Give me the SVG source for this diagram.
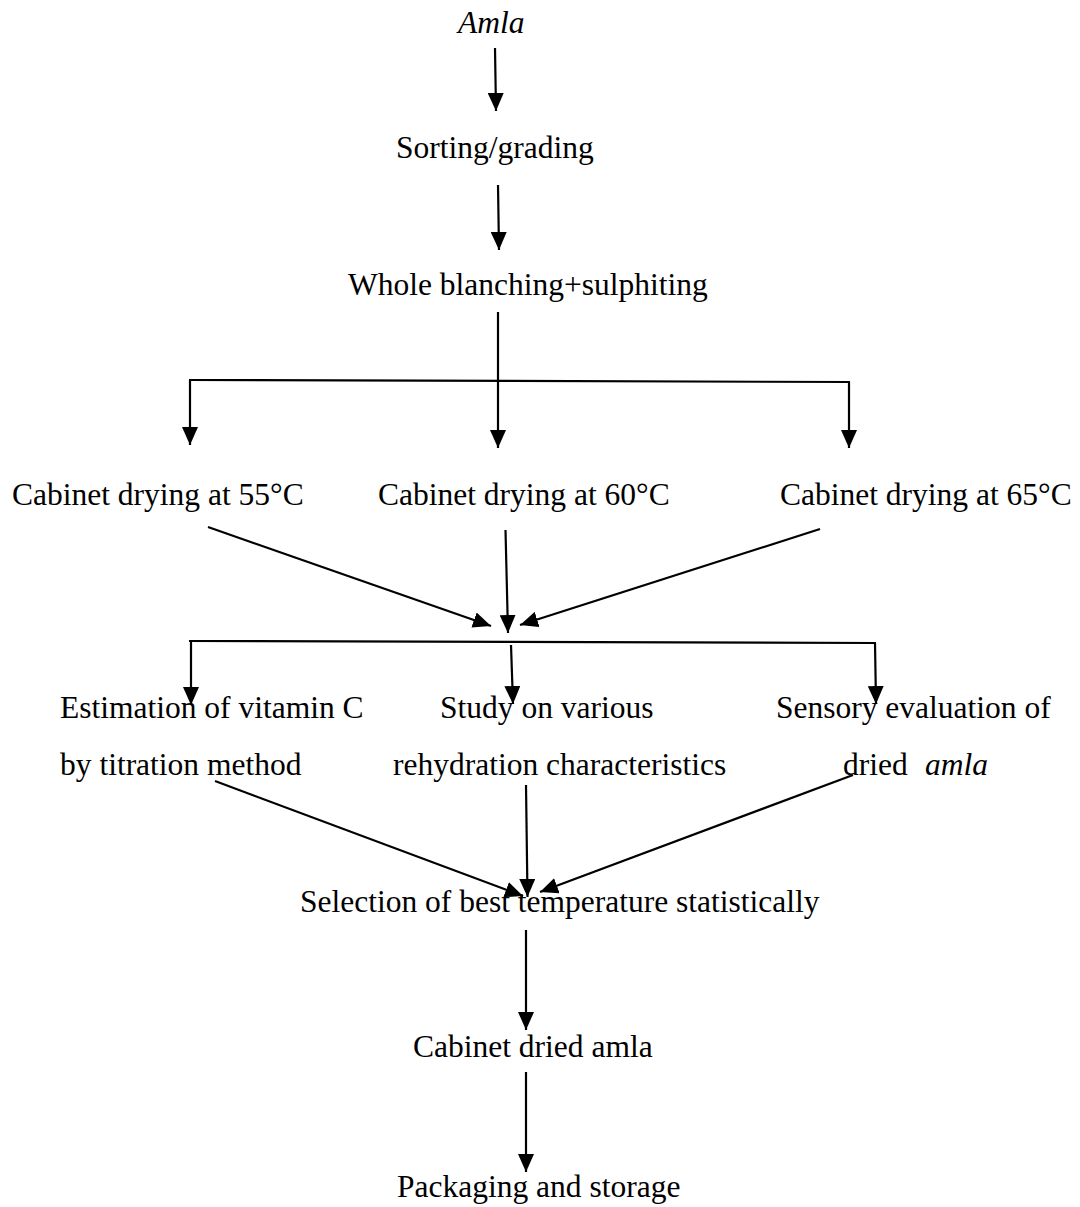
<svg xmlns="http://www.w3.org/2000/svg" width="1080" height="1207" viewBox="0 0 1080 1207">
<style>
text{font-family:"Liberation Serif","Times New Roman",serif;font-size:31.5px;fill:#000}
.it{font-style:italic}
.c line{stroke:#000;stroke-width:2.2;fill:none}
.a{marker-end:url(#ah)}
</style>
<defs>
<marker id="ah" markerUnits="userSpaceOnUse" markerWidth="18" markerHeight="16" viewBox="0 0 18 16" refX="18" refY="8" orient="auto">
<path d="M0,0 L18,8 L0,16 z" fill="#000"/>
</marker>
</defs>
<rect width="1080" height="1207" fill="#fff"/>
<g id="n-amla"><text x="458" y="33" class="it">Amla</text></g>
<g id="n-sorting"><text x="396" y="158">Sorting/grading</text></g>
<g id="n-blanching"><text x="348" y="295">Whole blanching+sulphiting</text></g>
<g id="n-dry55"><text x="12" y="505">Cabinet drying at 55°C</text></g>
<g id="n-dry60"><text x="378" y="505">Cabinet drying at 60°C</text></g>
<g id="n-dry65"><text x="780" y="505">Cabinet drying at 65°C</text></g>
<g id="n-vitc"><text x="60" y="718">Estimation of vitamin C</text><text x="60" y="775">by titration method</text></g>
<g id="n-rehyd"><text x="440" y="718">Study on various</text><text x="393" y="775">rehydration characteristics</text></g>
<g id="n-sensory"><text x="776" y="718">Sensory evaluation of</text><text x="843" y="775">dried</text><text x="925" y="775" class="it">amla</text></g>
<g id="n-select"><text x="300" y="912">Selection of best temperature statistically</text></g>
<g id="n-dried"><text x="413" y="1057">Cabinet dried amla</text></g>
<g id="n-pack"><text x="397" y="1197">Packaging and storage</text></g>
<g id="connectors" class="c">
<line class="a" x1="495" y1="48" x2="496" y2="111"/>
<line class="a" x1="498" y1="185" x2="499" y2="250"/>
<line class="a" x1="498" y1="312" x2="498" y2="448"/>
<line x1="189" y1="380" x2="850" y2="382"/>
<line class="a" x1="190" y1="380" x2="190" y2="445"/>
<line class="a" x1="849" y1="382" x2="849" y2="448"/>
<line class="a" x1="208" y1="527" x2="491" y2="626"/>
<line class="a" x1="505.5" y1="530" x2="508" y2="633"/>
<line class="a" x1="820" y1="529" x2="520" y2="625"/>
<line x1="189" y1="641" x2="876" y2="643"/>
<line class="a" x1="191" y1="641" x2="191" y2="705"/>
<line class="a" x1="511" y1="645" x2="513" y2="704"/>
<line class="a" x1="875" y1="643" x2="876" y2="704"/>
<line class="a" x1="215" y1="781" x2="523" y2="896"/>
<line class="a" x1="526" y1="785" x2="527.5" y2="897"/>
<line class="a" x1="853" y1="775" x2="540" y2="892"/>
<line class="a" x1="526" y1="930" x2="526" y2="1030"/>
<line class="a" x1="526" y1="1072" x2="526" y2="1172"/>
</g>
</svg>
